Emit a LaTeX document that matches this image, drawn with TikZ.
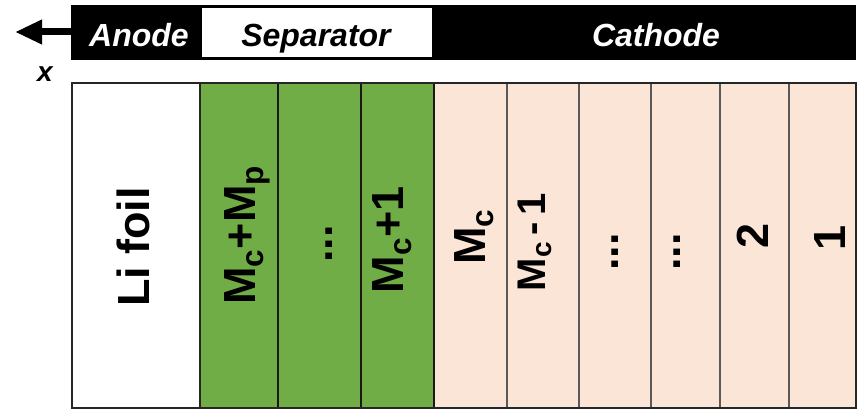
\documentclass[tikz,border=0pt]{standalone}
\usepackage{fontspec}
\setmainfont{Liberation Sans}
\usetikzlibrary{arrows.meta}
\definecolor{sepgreen}{HTML}{70AD47}
\definecolor{cathpink}{HTML}{FBE5D6}

\begin{document}
\begin{tikzpicture}[x=1pt,y=-1pt,
                    cell label/.style={
                        rotate=90,
                        anchor=base,
                        inner sep=0pt,
                        font=\fontsize{45}{45}\selectfont\bfseries},
                    head label/.style={anchor=base, inner sep=0pt, font=\fontsize{32}{32}\selectfont\bfseries\itshape},
                    my divider/.style={line width=1.4pt}]
\useasboundingbox (0,0) rectangle (864,409);
\def\top{83}\def\bot{408} % top and bottom of the cell row
% header bar
\fill[black] (71,5) rectangle (856,60);
\fill[white] (202,8) rectangle (432,57);
\coordinate (axis start) at (72,32);
\coordinate (axis end) at (15,32);
\draw[line width=7pt, -{Triangle[length=27pt,width=23pt]}] (axis start) -- (axis end);
\node[head label, text=white] (anode) at (139,47) {Anode};
\node[head label] (separator) at (316,47) {Separator};
\node[head label, text=white] (cathode) at (656,47) {Cathode};
\node[head label, font=\fontsize{28}{28}\selectfont\bfseries\itshape] (xaxis) at (45,82) {x};
% cells
\fill[sepgreen] (200,\top) rectangle (434,\bot);
\fill[cathpink] (434,\top) rectangle (856,\bot);
\foreach \xx in {278,361,434} \draw[my divider, black!90] (\xx,\top) -- (\xx,\bot);
\foreach \xx in {507,579,651,720,789} \draw[my divider, black!65] (\xx,\top) -- (\xx,\bot);
\draw[line width=2.2pt, black!85] (200,\top) -- (200,\bot);
\draw[line width=2.5pt, black!85] (72,\top) rectangle (856,\bot);
% labels, placed by their baseline
\node[cell label] (li foil) at (149,247) {Li foil};
\node[cell label] (Mc+Mp) at (255,235) {M\textsubscript{c}+M\textsubscript{p}};
\node[cell label] (sep dots) at (332,244) {...};
\node[cell label] (Mc+1) at (403,240) {M\textsubscript{c}+1};
\node[cell label] (Mc) at (485,237) {M\textsubscript{c}};
\node[cell label, font=\fontsize{40}{40}\selectfont\bfseries] (Mc-1) at (545,242) {M\textsubscript{c}\,-\,1};
\node[cell label] (cath dots a) at (618,252) {...};
\node[cell label] (cath dots b) at (680,252) {...};
\node[cell label] (two) at (768,236) {2};
\node[cell label] (one) at (845,238) {1};
\end{tikzpicture}
\end{document}
